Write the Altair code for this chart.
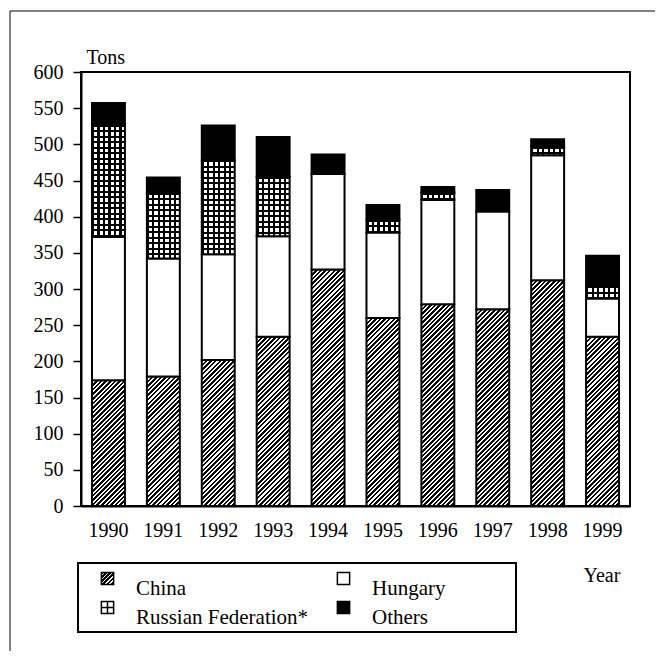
import math
import pandas as pd
import altair as alt

# ---- data (tons) ----
years = ["1990", "1991", "1992", "1993", "1994", "1995", "1996", "1997", "1998", "1999"]
china = [174, 179, 202, 234, 327, 260, 279, 272, 312, 234]
hungary = [198, 163, 146, 139, 132, 118, 144, 135, 173, 53]
russia = [155, 91, 130, 82, 0, 18, 10, 0, 12, 17]
others = [30, 21, 48, 55, 27, 20, 8, 30, 10, 42]
series = ["China", "Hungary", "Russian Federation*", "Others"]
y_ticks = [0, 50, 100, 150, 200, 250, 300, 350, 400, 450, 500, 550, 600]

rows = []
for i, yr in enumerate(years):
    base = 0
    for s, vals in zip(series, [china, hungary, russia, others]):
        v = vals[i]
        rows.append({"year": yr, "series": s, "value": v, "y0": base, "y1": base + v})
        base += v
df = pd.DataFrame(rows)

# ---- geometry / styling ----
W, H = 549, 434
YMAX = 600
PAD_IN, PAD_OUT = 0.4, 0.2
STEP = W / (len(years) - PAD_IN + 2 * PAD_OUT)
BAND = STEP * (1 - PAD_IN)
PPT = H / YMAX
FONT = "Liberation Serif"


def stripes(total_px, period, dark_frac, dark, light):
    stops = []
    n = int(math.ceil(total_px / period))
    P = period / total_px
    for k in range(n):
        t0 = k * P
        t1 = min(t0 + dark_frac * P, 1.0)
        t2 = min(t0 + P, 1.0)
        stops += [(t0, dark), (t1, dark), (t1, light), (t2, light)]
    return [{"offset": round(o, 5), "color": c} for o, c in stops]


def hatch(w, h, period=4.6, frac=0.55):
    k = (w + h) / (w * w + h * h)
    return {"gradient": "linear", "x1": 0, "y1": 0, "x2": k * w, "y2": k * h,
            "stops": stripes(w + h, period, frac, "black", "white")}


def hlines(h, period=5.5, frac=0.38):
    return {"gradient": "linear", "x1": 0, "y1": 0, "x2": 0, "y2": 1,
            "stops": stripes(h, period, frac, "black", "white")}


vlines = {"gradient": "linear", "x1": 0, "y1": 0, "x2": 1, "y2": 0,
          "stops": stripes(BAND, 5.5, 0.38, "black", "rgba(0,0,0,0)")}

china_fill = {"condition": [{"test": f"datum.year === '{yr}'", "value": hatch(BAND, v * PPT)}
                            for yr, v in zip(years, china) if v > 0], "value": "white"}
russia_fill = {"condition": [{"test": f"datum.year === '{yr}'", "value": hlines(v * PPT)}
                             for yr, v in zip(years, russia) if v > 0], "value": "white"}

x_enc = alt.X("year:O", scale=alt.Scale(paddingInner=PAD_IN, paddingOuter=PAD_OUT),
              axis=alt.Axis(title="Year", labelAngle=0, ticks=False, tickSize=0,
                            labelBaseline="alphabetic", labelPadding=30,
                            titleX=502, titleY=75, titleAlign="left", titleAngle=0,
                            titleBaseline="alphabetic"))
y_enc = alt.Y("y1:Q", scale=alt.Scale(domain=[0, YMAX], nice=False),
              axis=alt.Axis(title="Tons", values=y_ticks, tickSize=8, tickWidth=1.5,
                            labelPadding=10, titleAngle=0, titleAlign="left",
                            titleBaseline="alphabetic", titleX=5, titleY=-9))

base = alt.Chart(df).encode(x=x_enc, y=y_enc, y2="y0")

china_layer = base.transform_filter("datum.series === 'China'").mark_bar(
    stroke="black", strokeWidth=2).encode(fill=china_fill)
hung_layer = base.transform_filter("datum.series === 'Hungary'").mark_bar(
    fill="white", stroke="black", strokeWidth=2)
rus_layer1 = base.transform_filter("datum.series === 'Russian Federation*' && datum.value > 0").mark_bar(
    strokeWidth=0).encode(fill=russia_fill)
rus_layer2 = base.transform_filter("datum.series === 'Russian Federation*' && datum.value > 0").mark_bar(
    fill=vlines, stroke="black", strokeWidth=2)
oth_layer = base.transform_filter("datum.series === 'Others'").mark_bar(
    fill="black", stroke="black", strokeWidth=2)

bars = alt.layer(china_layer, hung_layer, rus_layer1, rus_layer2, oth_layer)

# ---- legend ----
leg_df = pd.DataFrame({"name": series, "col": [0, 1, 0, 1], "row": [0, 0, 1, 1]})
lx = alt.X("col:Q", scale=alt.Scale(domain=[0, 1], range=[26.5, 262.5]), axis=None)
ly = alt.Y("row:Q", scale=alt.Scale(domain=[0, 1], range=[506.5, 535.5]), axis=None)
RUS_PATH = "M-1,-1H1V1H-1Z M0,-1V1 M-1,0H1"
leg_hatch = {"gradient": "linear", "x1": 0, "y1": 0, "x2": 1, "y2": 1,
             "stops": stripes(24, 4.0, 0.62, "black", "white")}
leg_fill = {"condition": [{"test": "datum.name === 'China'", "value": leg_hatch},
                          {"test": "datum.name === 'Others'", "value": "black"}],
            "value": "white"}
leg_sym = alt.Chart(leg_df).mark_point(filled=True, size=150, stroke="black",
                                       strokeWidth=1.5, opacity=1).encode(
    x=lx, y=ly,
    shape=alt.Shape("name:N", scale=alt.Scale(domain=series,
                                              range=["square", "square", RUS_PATH, "square"]),
                    legend=None),
    fill=leg_fill)
leg_txt = alt.Chart(leg_df).mark_text(align="left", baseline="alphabetic", dx=28.5, dy=16,
                                      fontSize=21, font=FONT, color="black").encode(
    x=lx, y=ly, text="name:N")
legend = alt.layer(leg_sym, leg_txt)

one = pd.DataFrame({"k": [0]})
box = alt.Chart(one).mark_rect(fill="transparent", stroke="black", strokeWidth=2).encode(
    x=alt.value(-3), x2=alt.value(435), y=alt.value(491), y2=alt.value(560))
frame = alt.Chart(one).mark_rect(fill="transparent", stroke="black", strokeWidth=1).encode(
    x=alt.value(-71), x2=alt.value(700), y=alt.value(-61), y2=alt.value(700))

chart = alt.layer(frame, bars, box, legend).resolve_scale(
    x="independent", y="independent"
).properties(
    width=W, height=H,
    padding={"left": 73, "top": 64, "right": 25, "bottom": 145},
    autosize=alt.AutoSizeParams(type="none"),
).configure(font=FONT, background="white").configure_view(
    stroke="black", strokeWidth=2
).configure_axis(
    grid=False, domainColor="black", domainWidth=2, tickColor="black",
    labelColor="black", labelFont=FONT, labelFontSize=20,
    titleColor="black", titleFont=FONT, titleFontSize=20, titleFontWeight="normal",
)

chart.save("out.html", embed_options={"renderer": "svg", "actions": False})
